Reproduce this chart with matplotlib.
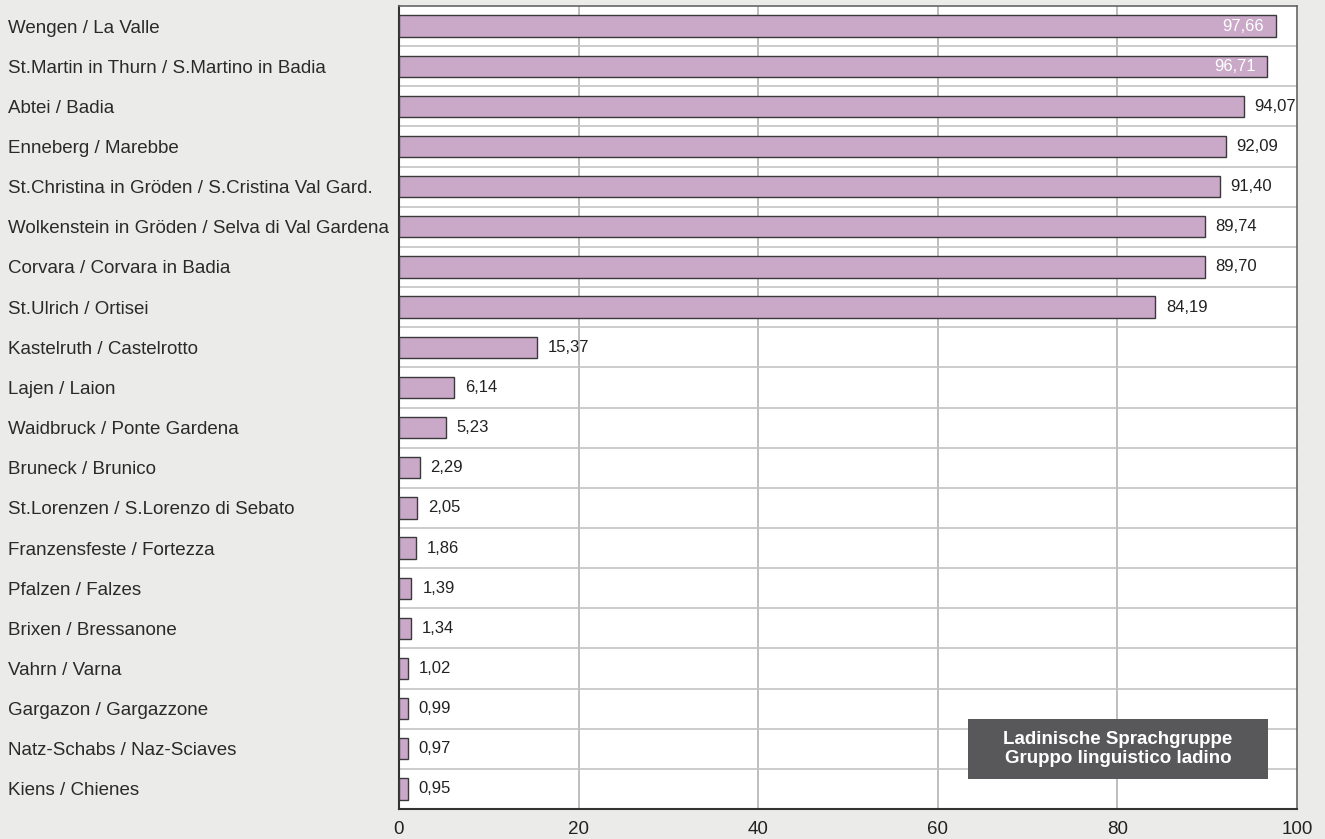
import matplotlib.pyplot as plt
import numpy as np
from matplotlib.patches import Rectangle

plt.rcParams['font.family'] = ['Liberation Sans', 'DejaVu Sans']

# municipalities, top to bottom
places = [
    'Wengen / La Valle',
    'St.Martin in Thurn / S.Martino in Badia',
    'Abtei / Badia',
    'Enneberg / Marebbe',
    'St.Christina in Gröden / S.Cristina Val Gard.',
    'Wolkenstein in Gröden / Selva di Val Gardena',
    'Corvara / Corvara in Badia',
    'St.Ulrich / Ortisei',
    'Kastelruth / Castelrotto',
    'Lajen / Laion',
    'Waidbruck / Ponte Gardena',
    'Bruneck / Brunico',
    'St.Lorenzen / S.Lorenzo di Sebato',
    'Franzensfeste / Fortezza',
    'Pfalzen / Falzes',
    'Brixen / Bressanone',
    'Vahrn / Varna',
    'Gargazon / Gargazzone',
    'Natz-Schabs / Naz-Sciaves',
    'Kiens / Chienes',
]
values = [97.66, 96.71, 94.07, 92.09, 91.40, 89.74, 89.70, 84.19, 15.37, 6.14,
          5.23, 2.29, 2.05, 1.86, 1.39, 1.34, 1.02, 0.99, 0.97, 0.95]
xticks = [0, 20, 40, 60, 80, 100]
legend_text = 'Ladinische Sprachgruppe\nGruppo linguistico ladino'

bg = '#ebebea'
fig = plt.figure(figsize=(13.25, 8.39), dpi=100, facecolor=bg)
ax = fig.add_axes([399 / 1325, 30 / 839, 898 / 1325, 803 / 839])
ax.set_facecolor('white')

y = np.arange(len(places))
ax.barh(y, values, height=0.53, color='#c9a8c8', edgecolor='#3a3a3a', linewidth=1, zorder=3)

for yi, v in zip(y, values):
    s = f'{v:.2f}'.replace('.', ',')
    if v > 95:
        ax.text(v - 1.3, yi, s, ha='right', va='center', color='white', fontsize=12, zorder=4)
    else:
        ax.text(v + 1.2, yi, s, ha='left', va='center', color='#222222', fontsize=12, zorder=4)

ax.set_xlim(0, 100)
ax.set_ylim(len(places) - 0.5, -0.5)
ax.set_xticks(xticks)
ax.set_xticklabels([str(t) for t in xticks], fontsize=13.5, color='#222222')
ax.set_yticks(y)
ax.set_yticklabels(places, fontsize=13.5, color='#2a2a2a', ha='left')
ax.tick_params(axis='y', length=0, pad=391 * 0.72)
ax.tick_params(axis='x', length=0, pad=9)

# grid: vertical at ticks, horizontal between rows
for t in xticks[1:-1]:
    ax.axvline(t, color='#b3b3b3', lw=1.2, zorder=1)
for b in np.arange(0.5, len(places) - 1, 1):
    ax.axhline(b, color='#c4c4c4', lw=1.2, zorder=1)

for side in ['left', 'bottom']:
    ax.spines[side].set_color('#333333')
    ax.spines[side].set_linewidth(1.5)
for side in ['top', 'right']:
    ax.spines[side].set_color('#666666')
    ax.spines[side].set_linewidth(1.2)

# label box
ax.add_patch(Rectangle((569 / 898, 30 / 803), 300 / 898, 60 / 803, transform=ax.transAxes,
                       fc='#58585a', ec='none', zorder=5))
ax.text(719 / 898, 60 / 803, legend_text, transform=ax.transAxes, ha='center', va='center',
        color='white', fontsize=13.5, fontweight='bold', linespacing=1.2, zorder=6)

fig.savefig('out.png', dpi=100, facecolor=bg)
